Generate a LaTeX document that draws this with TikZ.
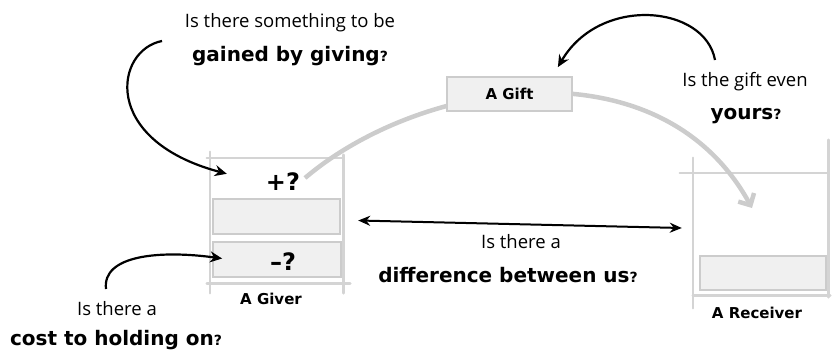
\documentclass[tikz,border=0pt]{standalone}
\usepackage{fontspec}
\setmainfont{Open Sans}
\newfontfamily\heavyFont{DejaVu Sans}
\usetikzlibrary{arrows.meta,positioning}

\definecolor{slotFill}{gray}{0.94}
\definecolor{slotLine}{gray}{0.8}
\definecolor{frameGray}{gray}{0.83}
\definecolor{arcGray}{gray}{0.8}

\tikzset{
	askText/.style={font=\fontsize{18.5}{18.5}\selectfont, inner sep=0pt},
	askBold/.style={font=\heavyFont\bfseries\fontsize{20}{20}\selectfont, inner sep=0pt},
	signText/.style={font=\heavyFont\bfseries\fontsize{24}{24}\selectfont, inner sep=0pt},
	nameText/.style={font=\heavyFont\bfseries\fontsize{15}{15}\selectfont, inner sep=0pt},
	slotBox/.style={draw=slotLine, fill=slotFill, line width=1.8pt},
	frameLine/.style={draw=frameGray, line width=2.6pt, line cap=round},
	noteArrow/.style={line width=2.2pt, -{Stealth[length=12pt,width=11pt]}},
}
\newcommand{\smallQ}{{\fontsize{14}{14}\selectfont ?}}

\begin{document}
\begin{tikzpicture}[x=1pt, y=-1pt]
		\useasboundingbox (0,0) rectangle (832,356);
		% the two people
		\node[minimum width=133, minimum height=125, inner sep=0pt] (giver) at (276.5,220.5) {};
		\node[minimum width=135, minimum height=122, inner sep=0pt] (receiver) at (760.5,234) {};
		\draw[frameLine] ([yshift=6]giver.north west) -- ([yshift=-10]giver.south west);
		\draw[frameLine] ([yshift=3]giver.north east) -- ([yshift=-10]giver.south east);
		\draw[frameLine] ([xshift=-3]giver.north west) -- (giver.north east);
		\draw[frameLine] ([xshift=-3]giver.south west) -- ([xshift=7]giver.south east);
		\draw[frameLine] ([yshift=15]receiver.north west) -- ([yshift=-13]receiver.south west);
		\draw[frameLine] ([yshift=33]receiver.north east) -- ([yshift=-2]receiver.south east);
		\draw[frameLine] ([xshift=-13]receiver.north west) -- (receiver.north east);
		\draw[frameLine] (receiver.south west) -- ([xshift=2]receiver.south east);
		\node[slotBox, minimum width=127, minimum height=35] (giverSlotA) at (276.5,216.5) {};
		\node[slotBox, minimum width=128, minimum height=35] (giverSlotB) at (277,259.5) {};
		\node[slotBox, minimum width=126, minimum height=34] (receiverSlot) at (763,273) {};
		\node[signText] (plus) at (283,182) {+?};
		\node[signText] (minus) at (283,262) {–?};
		\node[nameText] (giverName) at (271,299) {A Giver};
		\node[nameText] (receiverName) at (757,313) {A Receiver};
		% the gift on its way
		\draw[arcGray, line width=4.5pt, -{Straight Barb[length=9pt,width=18pt]}]
			(305,178) .. controls (420,80) and (660,40) .. (752,208);
		\node[slotBox, minimum width=125, minimum height=34] (giftBox) at (509.5,94) {};
		\node[nameText] (giftName) at (giftBox) {A Gift};
		\draw[{Stealth[length=12pt,width=10pt]}-{Stealth[length=12pt,width=10pt]}, line width=2pt]
			([xshift=15]giver.east) -- ([xshift=-11,yshift=6]receiver.west);
		% the questions
		\node[askText] (gainAsk) at (290,23) {Is there something to be};
		\node[askBold] (gainBold) at (290,56) {gained by giving\smallQ};
		\node[askText] (giftAsk) at (745,82) {Is the gift even};
		\node[askBold] (giftBold) at (746,116) {yours\smallQ};
		\node[askText] (diffAsk) at (521,242) {Is there a};
		\node[askBold] (diffBold) at (508,275) {difference between us\smallQ};
		\node[askText] (costAsk) at (117,309) {Is there a};
		\node[askBold] (costBold) at (116,340) {cost to holding on\smallQ};
		\coordinate (gainTail) at (162,41);
		\coordinate (giftTail) at (715,60);
		\coordinate (costTail) at (106,289);
		\draw[noteArrow] (gainTail) .. controls (115,50) and (100,140) .. ([xshift=17,yshift=-16]giver.north west);
		\draw[noteArrow] (giftTail) .. controls (705,5) and (600,-5) .. ([xshift=-15,yshift=9]giftBox.north east);
		\draw[noteArrow] (costTail) .. controls (102,255) and (160,250) .. ([xshift=10,yshift=1]giverSlotB.west);
	\end{tikzpicture}
\end{document}
